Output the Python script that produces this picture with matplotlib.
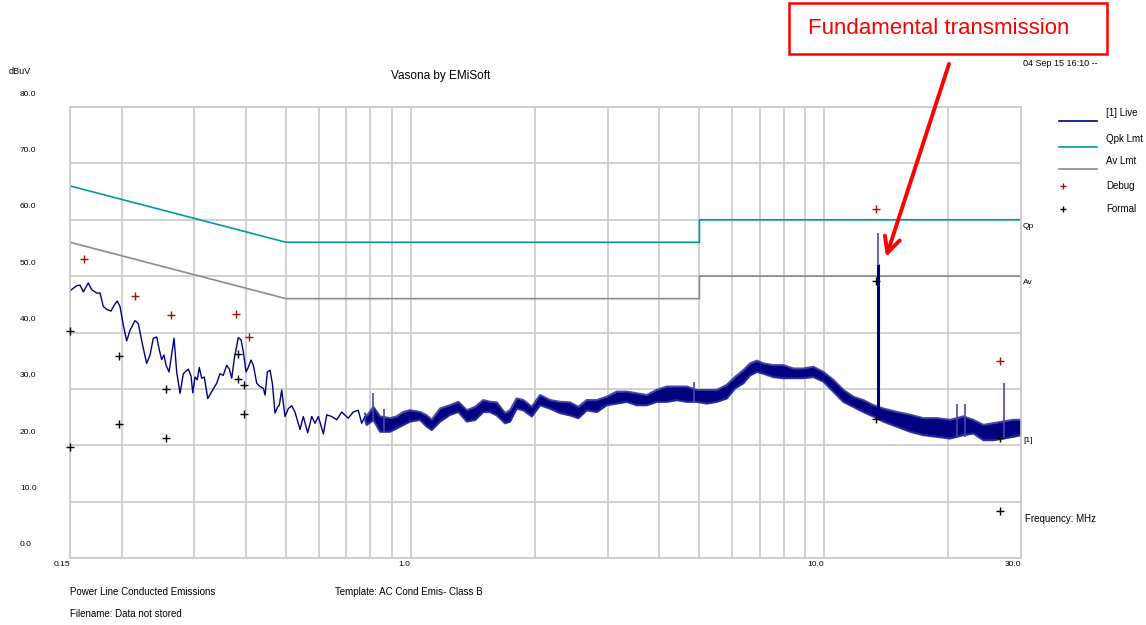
import matplotlib
matplotlib.use('Agg')
import matplotlib.pyplot as plt
from matplotlib.lines import Line2D
from matplotlib.patches import Rectangle

# ---- data ----
# live trace, smooth low-frequency part (MHz, dBuV)
live_f = [0.150, 0.1557, 0.1586, 0.1616, 0.1661, 0.1692, 0.1740, 0.1773, 0.1806, 0.1841,
          0.1885, 0.1920, 0.1952, 0.1982, 0.2019, 0.2057, 0.2096, 0.2154, 0.2194, 0.2243,
          0.2299, 0.2343, 0.2386, 0.2432, 0.2467, 0.2500, 0.2532, 0.2561, 0.2605, 0.2634,
          0.2678, 0.2718, 0.2769, 0.2820, 0.2900, 0.2944, 0.2972, 0.3010, 0.3048, 0.3082,
          0.3124, 0.3170, 0.3231, 0.3303, 0.3397, 0.3460, 0.3524, 0.3591, 0.3644, 0.3693,
          0.3747, 0.3831, 0.3890, 0.3940, 0.3999, 0.4038, 0.4113, 0.4166, 0.4245, 0.4325,
          0.4405, 0.4447, 0.4504, 0.4572, 0.4631, 0.4700, 0.4771, 0.4814, 0.4879, 0.4970,
          0.5062, 0.5159, 0.5254, 0.5403, 0.5503, 0.5640, 0.5767, 0.5874, 0.5984, 0.6153,
          0.6270, 0.6447, 0.6629, 0.6816, 0.7070, 0.7269, 0.7476, 0.7618, 0.7760]
live_db = [47.4, 48.3, 48.4, 47.2, 48.8, 47.6, 47.0, 47.0, 44.6, 44.1,
           43.8, 44.9, 45.6, 44.6, 41.3, 38.5, 40.4, 42.1, 41.6, 38.1,
           34.5, 36.0, 39.0, 39.2, 36.9, 35.2, 36.0, 34.2, 33.0, 35.4,
           39.0, 33.0, 29.2, 32.7, 33.5, 32.3, 29.3, 32.1, 31.6, 33.8,
           31.9, 32.1, 28.3, 29.5, 31.0, 32.7, 32.4, 34.2, 33.5, 31.9,
           35.4, 39.1, 38.7, 36.6, 33.0, 33.6, 35.1, 34.2, 31.0, 30.4,
           30.1, 28.9, 33.0, 33.3, 31.0, 25.7, 26.8, 27.1, 29.8, 25.1,
           26.5, 27.0, 25.9, 22.8, 25.1, 22.2, 25.1, 23.9, 25.1, 22.0,
           25.4, 25.1, 24.5, 25.9, 24.8, 25.9, 26.2, 23.9, 25.1]

# live trace above ~0.78 MHz is a dense noise band: upper / lower edge
band_f = [0.7760, 0.783, 0.813, 0.844, 0.892, 0.926, 0.961, 0.997, 1.054, 1.094, 1.125,
          1.179, 1.246, 1.305, 1.368, 1.433, 1.500, 1.557, 1.616, 1.693, 1.741,
          1.807, 1.875, 1.965, 2.058, 2.175, 2.300, 2.432, 2.547, 2.669, 2.822,
          2.984, 3.155, 3.336, 3.527, 3.729, 3.942, 4.169, 4.407, 4.660, 4.926,
          5.210, 5.508, 5.823, 6.099, 6.387, 6.630, 6.882, 7.140, 7.547, 7.980,
          8.437, 8.920, 9.432, 9.972, 10.54, 11.15, 11.79, 12.46, 13.18, 13.93,
          15.01, 16.17, 17.41, 18.76, 20.21, 21.76, 23.00, 24.32, 25.71, 27.19,
          28.74, 30.0]
band_hi = [25.6, 25.1, 26.8, 25.1, 24.8, 25.1, 25.9, 26.2, 25.9, 25.3, 24.5,
           26.5, 27.1, 27.7, 26.2, 26.8, 28.0, 27.7, 27.6, 25.7, 26.2,
           28.3, 28.0, 26.8, 28.9, 28.0, 27.7, 27.6, 26.8, 28.0, 28.0,
           28.6, 29.5, 29.5, 29.2, 28.9, 29.8, 30.4, 30.4, 30.4, 29.8,
           29.8, 29.8, 30.7, 32.1, 33.3, 34.5, 35.0, 34.5, 34.2, 34.2,
           33.6, 33.6, 33.9, 33.0, 31.6, 29.8, 28.6, 28.0, 27.1, 26.5,
           25.9, 25.4, 24.8, 24.8, 24.5, 25.1, 24.5, 23.6, 23.9, 24.2,
           24.5, 24.5]
band_lo = [24.6, 23.6, 24.5, 22.4, 22.4, 23.0, 23.6, 24.2, 24.5, 23.3, 22.7,
           24.2, 25.4, 25.9, 24.2, 24.5, 25.9, 25.9, 25.3, 23.9, 24.2,
           26.5, 26.2, 25.1, 27.1, 26.5, 25.7, 25.3, 24.8, 26.2, 25.9,
           27.1, 27.4, 27.7, 27.1, 27.1, 27.7, 27.7, 28.0, 27.7, 27.7,
           27.4, 27.7, 28.3, 30.1, 31.0, 32.4, 33.0, 32.7, 32.1, 31.9,
           31.9, 31.9, 32.1, 31.3, 29.5, 27.7, 26.8, 25.9, 25.1, 24.2,
           23.3, 22.4, 21.8, 21.5, 21.2, 21.8, 22.1, 20.9, 20.9, 21.2,
           21.5, 21.8]

# narrow spikes sticking out of the noise
spike_f = [0.813, 0.863, 4.85, 21.0, 22.0, 27.25]
spike_base = [24.5, 22.4, 27.7, 21.5, 21.5, 21.2]
spike_top = [29.2, 26.5, 31.3, 27.4, 27.4, 31.0]

# 13.56 MHz fundamental
fund_f = 13.56
fund_base = 24.8
fund_top = 52.1
fund_peak = 57.7

# CISPR 22 class B limits
lim_f = [0.15, 0.5, 0.5, 5.0, 5.0, 30.0]
qpk_db = [66, 56, 56, 56, 60, 60]
av_db = [56, 46, 46, 46, 50, 50]

# measurement markers
debug_f = [0.162, 0.215, 0.263, 0.378, 0.406, 13.37, 26.7]
debug_db = [53.1, 46.5, 43.1, 43.3, 39.2, 61.9, 35.0]
formal_f = [0.150, 0.150, 0.197, 0.197, 0.256, 0.256, 0.383, 0.383, 0.396, 0.396,
            13.37, 13.37, 26.7, 26.7]
formal_db = [40.2, 19.7, 35.9, 23.8, 30.0, 21.3, 36.1, 31.7, 30.7, 25.5,
             49.1, 24.6, 21.2, 8.4]

x_grid = [0.2, 0.3, 0.4, 0.5, 0.6, 0.7, 0.8, 0.9, 1, 2, 3, 4, 5, 6, 7, 8, 9, 10, 20]
x_ticks = [0.15, 1.0, 10.0, 30.0]
x_ticklabels = ['0.15', '1.0', '10.0', '30.0']
y_ticks = [0, 10, 20, 30, 40, 50, 60, 70, 80]

NAVY = '#000080'
TEAL = '#009a9a'
GRAY = '#8c8c8c'
DRED = '#a01010'
GRID = '#cacaca'

W, H = 1146, 625
plt.rcParams['font.family'] = ['Liberation Sans', 'DejaVu Sans']

fig = plt.figure(figsize=(W / 100, H / 100), dpi=100)
ax = fig.add_axes([70 / W, 1 - 558 / H, 951 / W, 451 / H])


def ftext(x, y, s, **kw):
    # place text by pixel position measured from top-left of the image
    kw.setdefault('va', 'center')
    kw.setdefault('fontsize', 7)
    return fig.text(x / W, 1 - y / H, s, **kw)


ax.set_xscale('log')
ax.set_xlim(0.15, 30)
ax.set_ylim(0, 80)

# grid
ax.set_xticks(x_grid, minor=True)
ax.set_xticks(x_ticks)
ax.set_xticklabels(x_ticklabels, fontsize=6)
ax.set_xticklabels([], minor=True)
for lab in ax.get_xticklabels():
    lab.set_ha('right')
ax.set_yticks(y_ticks)
ax.set_yticklabels([])
ax.tick_params(which='both', length=0, pad=2.5)
ax.grid(True, which='both', color=GRID, lw=1.2)
ax.set_axisbelow(True)
for sp in ax.spines.values():
    sp.set_color(GRID)
    sp.set_linewidth(1.2)

for v in y_ticks:
    ax.annotate(f'{v:.1f}', xy=(0, v), xycoords=('axes fraction', 'data'),
                xytext=(-50, 13), textcoords='offset pixels',
                ha='left', va='center', fontsize=6)

# limits
ax.plot(lim_f, qpk_db, color=TEAL, lw=1.2)
ax.plot(lim_f, av_db, color=GRAY, lw=1.2)

# live trace
ax.plot(live_f, live_db, color=NAVY, lw=1)
ax.fill_between(band_f, band_lo, band_hi, color=NAVY, lw=0)
ax.plot(band_f, band_hi, color='#2a2a9c', lw=1.6, alpha=0.85)
ax.plot(band_f, band_lo, color='#2a2a9c', lw=1.6, alpha=0.85)
ax.vlines(spike_f, spike_base, spike_top, color='#4848a8', lw=1.2)
ax.vlines([fund_f], [fund_top], [fund_peak], color='#4848a8', lw=1.2)
ax.vlines([fund_f], [fund_base], [fund_top], color=NAVY, lw=2.2)

# markers
ax.plot(debug_f, debug_db, ls='none', marker='+', ms=6, mew=1, color=DRED,
        clip_on=False, zorder=4)
ax.plot(formal_f, formal_db, ls='none', marker='+', ms=6, mew=1, color='black',
        clip_on=False, zorder=4)

# labels around the plot
ftext(9, 71, 'dBuV', fontsize=6.5)
ftext(441, 76, 'Vasona by EMiSoft', ha='center', fontsize=8.5)
ftext(1023, 63, '04 Sep 15 16:10 --', fontsize=6.5)
ftext(1023, 227, 'Qp', fontsize=6)
ftext(1023, 282, 'Av', fontsize=6)
ftext(1023, 440, '[1]', fontsize=6)
ftext(1025, 519, 'Frequency: MHz')
ftext(70, 592, 'Power Line Conducted Emissions')
ftext(70, 614, 'Filename: Data not stored')
ftext(335, 592, 'Template: AC Cond Emis- Class B')

# legend, drawn by hand to match the software layout
leg_lines = [('[1] Live', NAVY, 121, 113), ('Qpk Lmt', TEAL, 147, 139), ('Av Lmt', GRAY, 169, 161)]
for name, col, ly, ty in leg_lines:
    fig.add_artist(Line2D([1059 / W, 1097 / W], [1 - ly / H, 1 - ly / H], color=col, lw=1.2))
    ftext(1106, ty, name)
for name, col, y in [('Debug', DRED, 186), ('Formal', 'black', 209)]:
    fig.add_artist(Line2D([1063 / W], [1 - y / H], marker='+', ms=5, mew=1, color=col, ls='none'))
    ftext(1106, y, name)

# annotation box + arrow
fig.add_artist(Rectangle((789 / W, 1 - 54 / H), (1107 - 789) / W, 51 / H,
                         transform=fig.transFigure, fill=False, ec='red', lw=1.8))
ftext(939, 29, 'Fundamental transmission', ha='center', color='red', fontsize=16)
ax.annotate('', xy=(14.15, 53.4), xycoords='data',
            xytext=(949, H - 64), textcoords='figure pixels',
            arrowprops=dict(arrowstyle='->', color='red', lw=2.8, mutation_scale=28,
                            shrinkA=0, shrinkB=0))

fig.savefig('out.png', dpi=100)
